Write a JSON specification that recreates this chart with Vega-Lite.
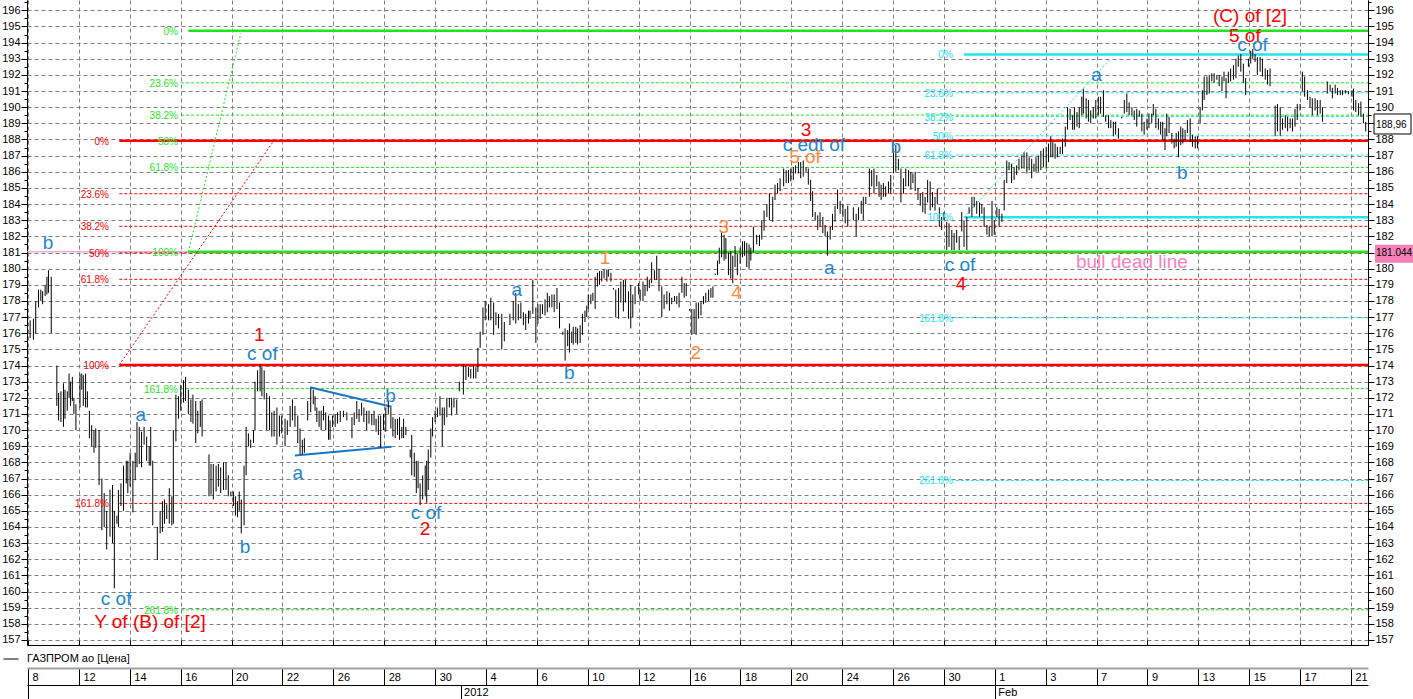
{
  "$schema": "https://vega.github.io/schema/vega-lite/v6.json",
  "width": 1341,
  "height": 645,
  "autosize": {"type": "none"},
  "padding": {"left": 27, "top": 0, "right": 45, "bottom": 54},
  "background": "#ffffff",
  "config": {
    "view": {"stroke": null},
    "axis": {"labelFont": "Liberation Sans", "labelColor": "#000000", "tickColor": "#000000", "domainColor": "#000000", "labelFontSize": 11, "title": null}
  },
  "resolve": {"axis": {"x": "independent", "y": "independent"}},
  "datasets": {
    "bull": [{"t": -0.043, "t2": 52.67, "p": 181.044}],
    "levels": [
      {"set": "A", "lvl": "0%", "p": 187.92, "t": 3.585, "t2": 52.67, "tl": 3.18, "kind": "main"},
      {"set": "A", "lvl": "23.6%", "p": 184.64, "t": 3.585, "t2": 52.67, "tl": 3.18, "kind": "fib"},
      {"set": "A", "lvl": "38.2%", "p": 182.62, "t": 3.585, "t2": 52.67, "tl": 3.18, "kind": "fib"},
      {"set": "A", "lvl": "50%", "p": 180.98, "t": 3.585, "t2": 52.67, "tl": 3.18, "kind": "fib"},
      {"set": "A", "lvl": "61.8%", "p": 179.34, "t": 3.585, "t2": 52.67, "tl": 3.18, "kind": "fib"},
      {"set": "A", "lvl": "100%", "p": 174.04, "t": 3.585, "t2": 52.67, "tl": 3.18, "kind": "main"},
      {"set": "A", "lvl": "161.8%", "p": 165.46, "t": 3.585, "t2": 52.67, "tl": 3.18, "kind": "fib"},
      {"set": "B", "lvl": "0%", "p": 194.74, "t": 6.30, "t2": 52.67, "tl": 5.89, "kind": "main"},
      {"set": "B", "lvl": "23.6%", "p": 191.51, "t": 6.01, "t2": 52.67, "tl": 5.89, "kind": "fib"},
      {"set": "B", "lvl": "38.2%", "p": 189.51, "t": 6.01, "t2": 52.67, "tl": 5.89, "kind": "fib"},
      {"set": "B", "lvl": "50%", "p": 187.89, "t": 6.01, "t2": 52.67, "tl": 5.89, "kind": "fib"},
      {"set": "B", "lvl": "61.8%", "p": 186.27, "t": 6.01, "t2": 52.67, "tl": 5.89, "kind": "fib"},
      {"set": "B", "lvl": "100%", "p": 181.04, "t": 6.30, "t2": 52.67, "tl": 5.89, "kind": "main"},
      {"set": "B", "lvl": "161.8%", "p": 172.57, "t": 6.01, "t2": 52.67, "tl": 5.89, "kind": "fib"},
      {"set": "B", "lvl": "261.8%", "p": 158.87, "t": 6.01, "t2": 52.67, "tl": 5.89, "kind": "fib"},
      {"set": "C", "lvl": "0%", "p": 193.27, "t": 36.79, "t2": 52.67, "tl": 36.35, "kind": "main"},
      {"set": "C", "lvl": "23.6%", "p": 190.89, "t": 36.47, "t2": 52.67, "tl": 36.35, "kind": "fib"},
      {"set": "C", "lvl": "38.2%", "p": 189.42, "t": 36.47, "t2": 52.67, "tl": 36.35, "kind": "fib"},
      {"set": "C", "lvl": "50%", "p": 188.23, "t": 36.47, "t2": 52.67, "tl": 36.35, "kind": "fib"},
      {"set": "C", "lvl": "61.8%", "p": 187.04, "t": 36.47, "t2": 52.67, "tl": 36.35, "kind": "fib"},
      {"set": "C", "lvl": "100%", "p": 183.19, "t": 36.79, "t2": 52.67, "tl": 36.35, "kind": "main"},
      {"set": "C", "lvl": "161.8%", "p": 176.96, "t": 36.47, "t2": 52.67, "tl": 36.35, "kind": "fib"},
      {"set": "C", "lvl": "261.8%", "p": 166.88, "t": 36.47, "t2": 52.67, "tl": 36.35, "kind": "fib"}
    ],
    "diag": [
      {"set": "B", "t": 6.30, "p": 181.04, "t2": 8.36, "p2": 194.57},
      {"set": "A", "t": 3.585, "p": 174.04, "t2": 9.63, "p2": 187.86},
      {"set": "C", "t": 36.79, "p": 183.19, "t2": 42.53, "p2": 192.96}
    ],
    "tri": [
      {"t": 11.08, "p": 172.65, "t2": 14.29, "p2": 171.45},
      {"t": 10.49, "p": 168.42, "t2": 14.29, "p2": 168.97}
    ],
    "waves": [
      {"txt": "b", "t": 0.78, "p": 181.57, "deg": "wave"},
      {"txt": "a", "t": 4.43, "p": 170.94, "deg": "wave"},
      {"txt": "c of", "t": 3.46, "p": 159.52, "deg": "wave"},
      {"txt": "Y of (B) of [2]", "t": 4.79, "p": 158.1, "deg": "degree"},
      {"txt": "b", "t": 8.53, "p": 162.78, "deg": "wave"},
      {"txt": "1", "t": 9.09, "p": 175.89, "deg": "degree"},
      {"txt": "c of", "t": 9.21, "p": 174.72, "deg": "wave"},
      {"txt": "a", "t": 10.60, "p": 167.33, "deg": "wave"},
      {"txt": "b", "t": 14.25, "p": 172.11, "deg": "wave"},
      {"txt": "c of", "t": 15.64, "p": 164.85, "deg": "wave"},
      {"txt": "2", "t": 15.60, "p": 163.86, "deg": "degree"},
      {"txt": "a", "t": 19.21, "p": 178.68, "deg": "wave"},
      {"txt": "b", "t": 21.27, "p": 173.52, "deg": "wave"},
      {"txt": "1", "t": 22.68, "p": 180.64, "deg": "sub"},
      {"txt": "2", "t": 26.25, "p": 174.76, "deg": "sub"},
      {"txt": "3", "t": 27.35, "p": 182.6, "deg": "sub"},
      {"txt": "4", "t": 27.85, "p": 178.51, "deg": "sub"},
      {"txt": "3", "t": 30.58, "p": 188.59, "deg": "degree"},
      {"txt": "c edt of", "t": 30.89, "p": 187.66, "deg": "wave"},
      {"txt": "5 of", "t": 30.54, "p": 186.9, "deg": "sub"},
      {"txt": "a", "t": 31.49, "p": 180.02, "deg": "wave"},
      {"txt": "b", "t": 34.11, "p": 187.55, "deg": "wave"},
      {"txt": "c of", "t": 36.63, "p": 180.23, "deg": "wave"},
      {"txt": "4", "t": 36.67, "p": 179.05, "deg": "degree"},
      {"txt": "a", "t": 42.0, "p": 191.99, "deg": "wave"},
      {"txt": "b", "t": 45.37, "p": 185.94, "deg": "wave"},
      {"txt": "5 of", "t": 47.83, "p": 194.41, "deg": "degree"},
      {"txt": "c of", "t": 48.13, "p": 193.85, "deg": "wave"},
      {"txt": "(C) of [2]", "t": 48.03, "p": 195.65, "deg": "degree"},
      {"txt": "bull dead line", "t": 43.39, "p": 180.43, "deg": "note"}
    ],
    "boxes": [
      {"t": 52.67, "p": 188.96, "txt": "188,96", "kind": "last"},
      {"t": 52.67, "p": 181.044, "txt": "181.044", "kind": "bull"}
    ],
    "bars": [
      {"t":0.08,"h":176.8,"l":175.7},{"t":0.21,"h":176.9,"l":175.6},{"t":0.30,"h":178.0,"l":176.0},{"t":0.41,"h":178.7,"l":177.6},
      {"t":0.50,"h":178.7,"l":178.0},{"t":0.57,"h":178.6,"l":177.8},{"t":0.67,"h":179.0,"l":178.3},{"t":0.74,"h":179.5,"l":178.4},
      {"t":0.80,"h":179.9,"l":178.5},{"t":0.91,"h":179.5,"l":176.0},{"t":1.13,"h":174.0,"l":171.5},{"t":1.20,"h":172.3,"l":170.6},
      {"t":1.29,"h":172.4,"l":170.5},{"t":1.39,"h":172.9,"l":170.2},{"t":1.45,"h":172.5,"l":170.7},{"t":1.54,"h":172.4,"l":171.2},
      {"t":1.61,"h":173.5,"l":172.0},{"t":1.67,"h":173.0,"l":171.5},{"t":1.74,"h":173.3,"l":171.8},{"t":1.80,"h":172.0,"l":171.0},
      {"t":1.88,"h":171.6,"l":170.0},{"t":2.04,"h":173.5,"l":171.4},{"t":2.11,"h":173.5,"l":172.5},{"t":2.17,"h":173.4,"l":171.5},
      {"t":2.26,"h":173.5,"l":171.4},{"t":2.33,"h":172.4,"l":171.4},{"t":2.41,"h":171.2,"l":169.5},{"t":2.50,"h":170.3,"l":169.0},
      {"t":2.59,"h":170.0,"l":168.6},{"t":2.66,"h":170.1,"l":168.9},{"t":2.79,"h":170.0,"l":166.6},{"t":2.90,"h":167.0,"l":163.8},
      {"t":2.99,"h":166.1,"l":164.0},{"t":3.09,"h":165.0,"l":162.6},{"t":3.22,"h":166.3,"l":163.4},{"t":3.32,"h":166.6,"l":163.0},
      {"t":3.39,"h":165.0,"l":160.2},{"t":3.49,"h":164.7,"l":164.2},{"t":3.55,"h":166.3,"l":164.0},{"t":3.65,"h":166.7,"l":165.3},
      {"t":3.75,"h":167.8,"l":165.0},{"t":3.86,"h":168.1,"l":166.7},{"t":3.92,"h":168.1,"l":166.1},{"t":4.01,"h":168.6,"l":166.5},
      {"t":4.12,"h":168.1,"l":164.9},{"t":4.21,"h":168.6,"l":166.9},{"t":4.28,"h":170.5,"l":167.7},{"t":4.37,"h":170.2,"l":167.9},
      {"t":4.46,"h":169.9,"l":167.7},{"t":4.56,"h":170.2,"l":169.1},{"t":4.66,"h":169.6,"l":168.1},{"t":4.76,"h":169.0,"l":167.8},
      {"t":4.82,"h":170.2,"l":167.8},{"t":4.90,"h":168.1,"l":164.1},{"t":5.08,"h":164.0,"l":161.95},{"t":5.19,"h":165.0,"l":163.6},
      {"t":5.28,"h":165.6,"l":163.7},{"t":5.36,"h":165.7,"l":164.2},{"t":5.45,"h":165.4,"l":164.5},{"t":5.55,"h":166.4,"l":164.2},
      {"t":5.65,"h":165.9,"l":164.1},{"t":5.71,"h":170.0,"l":164.2},{"t":5.81,"h":172.2,"l":169.3},{"t":5.91,"h":172.1,"l":170.7},
      {"t":6.00,"h":172.8,"l":171.2},{"t":6.11,"h":173.1,"l":171.7},{"t":6.19,"h":173.3,"l":171.8},{"t":6.30,"h":172.5,"l":171.0},
      {"t":6.40,"h":171.9,"l":170.5},{"t":6.48,"h":172.2,"l":170.4},{"t":6.59,"h":171.8,"l":169.2},{"t":6.67,"h":171.2,"l":169.8},
      {"t":6.77,"h":171.8,"l":170.2},{"t":6.84,"h":171.9,"l":169.6},{"t":7.11,"h":168.5,"l":165.9},{"t":7.19,"h":167.9,"l":166.0},
      {"t":7.28,"h":167.9,"l":165.7},{"t":7.39,"h":167.8,"l":166.2},{"t":7.48,"h":167.9,"l":166.5},{"t":7.57,"h":167.7,"l":166.1},
      {"t":7.68,"h":168.0,"l":166.3},{"t":7.78,"h":168.0,"l":166.3},{"t":7.87,"h":167.2,"l":165.9},{"t":7.97,"h":166.2,"l":165.9},
      {"t":8.07,"h":166.2,"l":165.3},{"t":8.15,"h":165.9,"l":164.7},{"t":8.23,"h":165.6,"l":164.6},{"t":8.30,"h":166.2,"l":165.0},
      {"t":8.38,"h":165.7,"l":163.6},{"t":8.49,"h":167.8,"l":164.1},{"t":8.57,"h":170.2,"l":167.2},{"t":8.66,"h":169.8,"l":169.0},
      {"t":8.75,"h":169.4,"l":168.9},{"t":8.86,"h":170.0,"l":169.2},{"t":8.92,"h":173.0,"l":170.0},{"t":9.02,"h":173.7,"l":172.4},
      {"t":9.12,"h":174.1,"l":172.4},{"t":9.19,"h":173.9,"l":172.1},{"t":9.28,"h":173.7,"l":171.9},{"t":9.38,"h":172.3,"l":170.0},
      {"t":9.49,"h":172.1,"l":170.0},{"t":9.58,"h":171.1,"l":169.6},{"t":9.67,"h":171.2,"l":169.6},{"t":9.78,"h":171.4,"l":169.1},
      {"t":9.88,"h":170.9,"l":169.6},{"t":9.97,"h":170.9,"l":169.8},{"t":10.10,"h":170.7,"l":169.0},{"t":10.19,"h":170.6,"l":169.7},
      {"t":10.30,"h":171.5,"l":170.2},{"t":10.39,"h":171.9,"l":170.6},{"t":10.49,"h":171.5,"l":170.2},{"t":10.60,"h":170.9,"l":169.2},
      {"t":10.69,"h":170.1,"l":168.5},{"t":10.78,"h":169.4,"l":168.5},{"t":10.86,"h":169.5,"l":168.6},{"t":10.99,"h":171.8,"l":170.6},
      {"t":11.11,"h":172.6,"l":171.1},{"t":11.21,"h":172.5,"l":171.6},{"t":11.28,"h":172.1,"l":171.2},{"t":11.35,"h":171.4,"l":170.5},
      {"t":11.44,"h":171.2,"l":170.2},{"t":11.52,"h":171.2,"l":170.0},{"t":11.61,"h":171.5,"l":170.6},{"t":11.70,"h":171.1,"l":170.0},
      {"t":11.81,"h":170.9,"l":169.4},{"t":11.87,"h":170.6,"l":169.4},{"t":11.97,"h":170.9,"l":170.2},{"t":12.07,"h":171.0,"l":170.2},
      {"t":12.16,"h":171.1,"l":170.4},{"t":12.27,"h":171.2,"l":170.5},{"t":12.40,"h":171.2,"l":170.8},{"t":12.53,"h":171.1,"l":170.6},
      {"t":12.73,"h":170.8,"l":169.5},{"t":12.82,"h":171.1,"l":170.3},{"t":12.92,"h":171.8,"l":170.7},{"t":13.01,"h":171.3,"l":170.5},
      {"t":13.11,"h":171.7,"l":170.9},{"t":13.20,"h":171.4,"l":170.5},{"t":13.31,"h":171.2,"l":170.0},{"t":13.40,"h":171.2,"l":170.4},
      {"t":13.51,"h":171.0,"l":170.3},{"t":13.60,"h":171.2,"l":170.3},{"t":13.68,"h":170.7,"l":169.9},{"t":13.77,"h":170.9,"l":169.7},
      {"t":13.86,"h":170.9,"l":168.9},{"t":13.97,"h":171.0,"l":170.0},{"t":14.06,"h":171.4,"l":169.9},{"t":14.16,"h":171.8,"l":171.0},
      {"t":14.26,"h":171.4,"l":170.1},{"t":14.34,"h":170.8,"l":169.6},{"t":14.43,"h":170.7,"l":169.5},{"t":14.52,"h":170.7,"l":169.7},
      {"t":14.60,"h":170.8,"l":169.4},{"t":14.69,"h":170.2,"l":169.5},{"t":14.76,"h":170.7,"l":169.5},{"t":14.85,"h":170.2,"l":169.7},
      {"t":15.02,"h":168.8,"l":168.3},{"t":15.08,"h":169.7,"l":167.2},{"t":15.18,"h":168.6,"l":167.1},{"t":15.26,"h":168.1,"l":166.1},
      {"t":15.33,"h":168.1,"l":166.4},{"t":15.41,"h":166.7,"l":165.35},{"t":15.51,"h":167.2,"l":165.7},{"t":15.61,"h":167.8,"l":165.9},
      {"t":15.67,"h":168.1,"l":165.5},{"t":15.73,"h":168.8,"l":166.3},{"t":15.83,"h":170.1,"l":168.3},{"t":15.90,"h":170.8,"l":169.6},
      {"t":16.00,"h":171.2,"l":170.5},{"t":16.09,"h":171.4,"l":170.8},{"t":16.19,"h":172.1,"l":170.9},{"t":16.28,"h":171.4,"l":169.0},
      {"t":16.36,"h":171.4,"l":170.3},{"t":16.46,"h":172.0,"l":170.8},{"t":16.56,"h":172.0,"l":171.4},{"t":16.65,"h":172.0,"l":170.9},
      {"t":16.74,"h":172.0,"l":171.4},{"t":16.85,"h":171.9,"l":171.0},{"t":16.95,"h":173.0,"l":172.4},{"t":17.11,"h":174.1,"l":172.2},
      {"t":17.21,"h":174.0,"l":173.1},{"t":17.31,"h":173.9,"l":173.3},{"t":17.40,"h":173.8,"l":173.2},{"t":17.51,"h":174.0,"l":173.2},
      {"t":17.60,"h":173.9,"l":173.2},{"t":17.68,"h":175.1,"l":173.6},{"t":17.77,"h":176.1,"l":175.1},{"t":17.88,"h":177.6,"l":175.9},
      {"t":17.97,"h":178.0,"l":176.8},{"t":18.10,"h":177.8,"l":176.8},{"t":18.19,"h":178.2,"l":176.8},{"t":18.30,"h":177.9,"l":175.9},
      {"t":18.39,"h":177.3,"l":176.5},{"t":18.49,"h":177.2,"l":176.3},{"t":18.62,"h":177.2,"l":175.0},{"t":18.72,"h":176.7,"l":175.5},
      {"t":18.94,"h":177.2,"l":176.5},{"t":19.07,"h":178.0,"l":176.8},{"t":19.17,"h":178.5,"l":176.6},{"t":19.27,"h":177.8,"l":176.8},
      {"t":19.37,"h":177.9,"l":176.9},{"t":19.47,"h":177.3,"l":176.5},{"t":19.56,"h":177.2,"l":176.2},{"t":19.67,"h":177.4,"l":176.6},
      {"t":19.73,"h":177.4,"l":176.9},{"t":19.84,"h":179.3,"l":177.2},{"t":19.96,"h":177.6,"l":175.4},{"t":20.04,"h":177.8,"l":176.6},
      {"t":20.13,"h":177.8,"l":176.9},{"t":20.22,"h":177.8,"l":177.2},{"t":20.32,"h":178.1,"l":177.1},{"t":20.41,"h":178.5,"l":177.3},
      {"t":20.49,"h":178.3,"l":177.6},{"t":20.59,"h":178.4,"l":177.6},{"t":20.68,"h":178.4,"l":177.3},{"t":20.79,"h":178.8,"l":177.5},
      {"t":20.89,"h":177.9,"l":176.3},{"t":21.02,"h":176.1,"l":175.9},{"t":21.11,"h":176.3,"l":174.3},{"t":21.21,"h":176.2,"l":175.2},
      {"t":21.28,"h":176.6,"l":174.8},{"t":21.37,"h":176.1,"l":175.4},{"t":21.43,"h":176.4,"l":175.3},{"t":21.53,"h":176.4,"l":175.4},
      {"t":21.60,"h":176.3,"l":175.3},{"t":21.70,"h":176.5,"l":175.4},{"t":21.79,"h":177.2,"l":175.9},{"t":21.89,"h":177.4,"l":176.7},
      {"t":21.96,"h":177.7,"l":177.0},{"t":22.02,"h":178.4,"l":177.5},{"t":22.12,"h":178.4,"l":177.8},{"t":22.20,"h":178.5,"l":178.0},
      {"t":22.29,"h":179.5,"l":177.5},{"t":22.38,"h":179.75,"l":178.9},{"t":22.46,"h":179.85,"l":179.0},{"t":22.55,"h":179.85,"l":179.2},
      {"t":22.64,"h":179.95,"l":179.4},{"t":22.75,"h":179.95,"l":179.2},{"t":22.81,"h":179.95,"l":179.5},{"t":22.91,"h":179.75,"l":179.2},
      {"t":23.01,"h":178.8,"l":178.7},{"t":23.10,"h":178.7,"l":177.0},{"t":23.21,"h":178.8,"l":176.9},{"t":23.30,"h":179.2,"l":177.9},
      {"t":23.40,"h":179.3,"l":177.35},{"t":23.48,"h":179.3,"l":177.9},{"t":23.60,"h":178.6,"l":176.9},{"t":23.69,"h":179.0,"l":176.3},
      {"t":23.77,"h":178.4,"l":177.0},{"t":23.86,"h":178.9,"l":177.8},{"t":24.00,"h":179.1,"l":178.4},{"t":24.06,"h":178.7,"l":178.0},
      {"t":24.17,"h":179.2,"l":178.0},{"t":24.25,"h":179.0,"l":178.3},{"t":24.34,"h":179.5,"l":178.6},{"t":24.42,"h":179.3,"l":178.8},
      {"t":24.51,"h":180.4,"l":179.1},{"t":24.62,"h":179.9,"l":179.3},{"t":24.71,"h":180.8,"l":179.3},{"t":24.80,"h":180.0,"l":178.6},
      {"t":24.91,"h":178.9,"l":177.0},{"t":25.00,"h":178.4,"l":177.5},{"t":25.11,"h":178.6,"l":177.8},{"t":25.21,"h":178.5,"l":177.4},
      {"t":25.30,"h":178.2,"l":177.8},{"t":25.41,"h":178.3,"l":178.0},{"t":25.50,"h":178.3,"l":177.8},{"t":25.59,"h":178.5,"l":177.6},
      {"t":25.70,"h":179.5,"l":178.5},{"t":25.79,"h":179.1,"l":178.2},{"t":25.87,"h":179.1,"l":178.3},{"t":26.00,"h":177.5,"l":177.4},
      {"t":26.09,"h":177.5,"l":175.9},{"t":26.18,"h":177.5,"l":176.0},{"t":26.26,"h":177.9,"l":175.9},{"t":26.35,"h":177.9,"l":176.9},
      {"t":26.45,"h":178.0,"l":177.1},{"t":26.55,"h":178.3,"l":177.8},{"t":26.64,"h":178.5,"l":177.9},{"t":26.75,"h":178.7,"l":178.0},
      {"t":26.84,"h":178.8,"l":178.2},{"t":26.92,"h":178.9,"l":178.2},{"t":27.01,"h":179.7,"l":179.6},{"t":27.10,"h":180.5,"l":179.6},
      {"t":27.17,"h":181.3,"l":180.3},{"t":27.26,"h":182.25,"l":180.7},{"t":27.36,"h":182.1,"l":180.5},{"t":27.43,"h":181.9,"l":180.6},
      {"t":27.53,"h":181.0,"l":179.6},{"t":27.62,"h":181.1,"l":179.4},{"t":27.70,"h":180.8,"l":179.1},{"t":27.79,"h":181.4,"l":180.1},
      {"t":27.88,"h":180.9,"l":179.6},{"t":27.99,"h":181.3,"l":180.3},{"t":28.08,"h":181.7,"l":180.7},{"t":28.16,"h":181.7,"l":180.8},
      {"t":28.25,"h":181.6,"l":180.1},{"t":28.34,"h":181.5,"l":180.0},{"t":28.41,"h":181.3,"l":180.5},{"t":28.51,"h":182.6,"l":181.0},
      {"t":28.64,"h":182.1,"l":181.5},{"t":28.75,"h":182.1,"l":181.4},{"t":28.84,"h":183.0,"l":181.8},{"t":28.93,"h":183.6,"l":182.35},
      {"t":29.04,"h":184.0,"l":183.2},{"t":29.14,"h":184.65,"l":183.0},{"t":29.27,"h":184.45,"l":182.9},{"t":29.36,"h":185.2,"l":184.25},
      {"t":29.46,"h":185.3,"l":184.65},{"t":29.56,"h":185.6,"l":184.8},{"t":29.70,"h":186.2,"l":185.1},{"t":29.80,"h":186.1,"l":185.3},
      {"t":29.89,"h":186.1,"l":185.3},{"t":29.98,"h":186.2,"l":185.4},{"t":30.08,"h":186.3,"l":185.5},{"t":30.17,"h":186.4,"l":185.9},
      {"t":30.28,"h":186.6,"l":185.9},{"t":30.37,"h":186.6,"l":185.6},{"t":30.47,"h":186.7,"l":185.7},{"t":30.58,"h":186.3,"l":186.0},
      {"t":30.67,"h":186.2,"l":185.2},{"t":30.76,"h":185.5,"l":184.2},{"t":30.84,"h":184.8,"l":183.2},{"t":30.94,"h":183.5,"l":183.0},
      {"t":31.04,"h":183.3,"l":182.4},{"t":31.13,"h":183.5,"l":182.6},{"t":31.24,"h":183.2,"l":182.2},{"t":31.33,"h":182.7,"l":182.0},
      {"t":31.42,"h":182.3,"l":180.8},{"t":31.53,"h":182.6,"l":181.8},{"t":31.62,"h":183.4,"l":182.4},{"t":31.72,"h":183.9,"l":182.9},
      {"t":31.82,"h":184.9,"l":183.7},{"t":31.92,"h":184.2,"l":183.4},{"t":32.03,"h":184.0,"l":183.2},{"t":32.12,"h":183.7,"l":182.8},
      {"t":32.22,"h":183.9,"l":182.6},{"t":32.44,"h":183.8,"l":183.0},{"t":32.55,"h":183.4,"l":182.0},{"t":32.64,"h":183.8,"l":183.0},
      {"t":32.75,"h":184.2,"l":183.4},{"t":32.83,"h":184.45,"l":183.0},{"t":32.93,"h":184.45,"l":184.0},{"t":33.07,"h":186.2,"l":184.45},
      {"t":33.16,"h":186.1,"l":185.1},{"t":33.25,"h":186.2,"l":184.65},{"t":33.36,"h":185.8,"l":185.1},{"t":33.45,"h":185.4,"l":184.45},
      {"t":33.53,"h":185.2,"l":184.25},{"t":33.62,"h":185.3,"l":184.45},{"t":33.71,"h":185.1,"l":184.45},{"t":33.82,"h":185.4,"l":184.65},
      {"t":33.91,"h":185.8,"l":184.65},{"t":34.02,"h":187.2,"l":185.9},{"t":34.11,"h":187.65,"l":186.0},{"t":34.21,"h":186.8,"l":186.1},
      {"t":34.31,"h":186.2,"l":184.1},{"t":34.41,"h":185.6,"l":184.65},{"t":34.50,"h":186.2,"l":185.1},{"t":34.61,"h":186.1,"l":185.1},
      {"t":34.70,"h":186.0,"l":184.9},{"t":34.78,"h":185.9,"l":185.3},{"t":34.87,"h":186.0,"l":184.8},{"t":34.98,"h":185.0,"l":184.25},
      {"t":35.07,"h":184.65,"l":183.9},{"t":35.17,"h":184.75,"l":183.5},{"t":35.26,"h":184.45,"l":183.4},{"t":35.36,"h":185.5,"l":184.1},
      {"t":35.46,"h":185.4,"l":183.6},{"t":35.55,"h":184.75,"l":183.8},{"t":35.65,"h":184.45,"l":183.6},{"t":35.74,"h":184.95,"l":184.0},
      {"t":35.82,"h":183.8,"l":182.6},{"t":35.91,"h":183.2,"l":182.4},{"t":36.00,"h":183.5,"l":183.0},{"t":36.11,"h":182.9,"l":181.15},
      {"t":36.20,"h":182.8,"l":181.35},{"t":36.31,"h":182.4,"l":181.15},{"t":36.40,"h":182.2,"l":181.15},{"t":36.50,"h":182.4,"l":181.6},
      {"t":36.60,"h":182.0,"l":181.15},{"t":36.70,"h":183.5,"l":182.3},{"t":36.79,"h":183.0,"l":181.35},{"t":36.90,"h":183.2,"l":181.15},
      {"t":36.99,"h":183.8,"l":183.4},{"t":37.10,"h":184.45,"l":183.2},{"t":37.19,"h":184.45,"l":183.8},{"t":37.29,"h":184.2,"l":183.4},
      {"t":37.40,"h":184.1,"l":183.2},{"t":37.49,"h":184.0,"l":183.4},{"t":37.58,"h":183.8,"l":182.6},{"t":37.69,"h":182.7,"l":182.1},
      {"t":37.78,"h":182.6,"l":182.0},{"t":37.89,"h":184.2,"l":182.0},{"t":37.98,"h":183.0,"l":182.1},{"t":38.08,"h":183.8,"l":183.2},
      {"t":38.17,"h":183.7,"l":182.6},{"t":38.28,"h":183.4,"l":182.9},{"t":38.37,"h":185.5,"l":183.6},{"t":38.47,"h":186.7,"l":185.3},
      {"t":38.56,"h":186.6,"l":186.1},{"t":38.66,"h":186.5,"l":185.3},{"t":38.76,"h":186.3,"l":185.5},{"t":38.86,"h":186.4,"l":185.8},
      {"t":38.95,"h":186.8,"l":186.1},{"t":39.06,"h":187.0,"l":186.2},{"t":39.15,"h":187.2,"l":186.2},{"t":39.26,"h":187.2,"l":185.9},
      {"t":39.35,"h":186.9,"l":186.1},{"t":39.45,"h":186.8,"l":185.6},{"t":39.54,"h":186.5,"l":186.0},{"t":39.62,"h":186.9,"l":186.0},
      {"t":39.71,"h":187.0,"l":186.0},{"t":39.81,"h":187.3,"l":186.1},{"t":39.91,"h":187.45,"l":186.3},{"t":40.02,"h":187.55,"l":186.2},
      {"t":40.11,"h":187.75,"l":186.6},{"t":40.20,"h":188.2,"l":186.9},{"t":40.28,"h":187.85,"l":186.9},{"t":40.37,"h":187.75,"l":186.8},
      {"t":40.46,"h":187.55,"l":186.9},{"t":40.57,"h":187.55,"l":187.1},{"t":40.66,"h":188.05,"l":187.1},{"t":40.77,"h":188.8,"l":187.55},
      {"t":40.86,"h":190.0,"l":188.6},{"t":40.96,"h":189.9,"l":189.2},{"t":41.06,"h":189.5,"l":188.6},{"t":41.13,"h":190.0,"l":188.6},
      {"t":41.23,"h":189.7,"l":188.8},{"t":41.32,"h":190.0,"l":188.7},{"t":41.42,"h":190.65,"l":189.5},{"t":41.48,"h":191.15,"l":189.6},
      {"t":41.59,"h":190.55,"l":189.3},{"t":41.68,"h":190.45,"l":189.1},{"t":41.77,"h":189.8,"l":189.0},{"t":41.87,"h":190.0,"l":189.3},
      {"t":41.97,"h":190.45,"l":189.3},{"t":42.07,"h":190.65,"l":189.5},{"t":42.16,"h":190.65,"l":189.6},{"t":42.27,"h":191.05,"l":189.4},
      {"t":42.36,"h":189.5,"l":189.1},{"t":42.47,"h":189.5,"l":188.7},{"t":42.56,"h":189.2,"l":188.7},{"t":42.66,"h":189.1,"l":188.2},
      {"t":42.75,"h":189.1,"l":188.3},{"t":42.86,"h":188.7,"l":188.05},{"t":42.99,"h":189.4,"l":189.3},{"t":43.09,"h":190.45,"l":189.6},
      {"t":43.19,"h":190.85,"l":189.7},{"t":43.28,"h":190.3,"l":189.5},{"t":43.39,"h":190.0,"l":189.5},{"t":43.48,"h":189.8,"l":189.2},
      {"t":43.58,"h":189.9,"l":188.8},{"t":43.68,"h":189.8,"l":189.4},{"t":43.78,"h":189.6,"l":188.5},{"t":43.87,"h":189.1,"l":188.3},
      {"t":43.98,"h":189.3,"l":188.6},{"t":44.06,"h":189.6,"l":188.7},{"t":44.17,"h":189.6,"l":189.0},{"t":44.23,"h":190.2,"l":189.5},
      {"t":44.33,"h":189.9,"l":188.7},{"t":44.43,"h":189.3,"l":188.6},{"t":44.52,"h":189.1,"l":188.3},{"t":44.60,"h":189.1,"l":187.95},
      {"t":44.69,"h":188.7,"l":187.35},{"t":44.76,"h":189.6,"l":188.2},{"t":44.85,"h":189.4,"l":188.4},{"t":44.96,"h":188.4,"l":187.75},
      {"t":45.05,"h":188.05,"l":187.45},{"t":45.13,"h":188.4,"l":187.55},{"t":45.22,"h":188.5,"l":186.9},{"t":45.31,"h":188.8,"l":187.65},
      {"t":45.39,"h":188.7,"l":187.75},{"t":45.48,"h":188.6,"l":187.95},{"t":45.57,"h":189.2,"l":188.4},{"t":45.68,"h":189.3,"l":187.85},
      {"t":45.77,"h":188.3,"l":187.55},{"t":45.88,"h":188.2,"l":187.45},{"t":45.97,"h":188.2,"l":187.45},{"t":46.07,"h":190.0,"l":189.0},
      {"t":46.16,"h":191.05,"l":189.8},{"t":46.23,"h":191.9,"l":190.45},{"t":46.34,"h":191.9,"l":190.75},{"t":46.43,"h":192.0,"l":190.85},
      {"t":46.53,"h":192.1,"l":191.6},{"t":46.62,"h":192.1,"l":191.5},{"t":46.73,"h":192.0,"l":191.7},{"t":46.82,"h":192.0,"l":191.3},
      {"t":46.93,"h":191.9,"l":191.0},{"t":47.01,"h":192.2,"l":191.6},{"t":47.09,"h":191.8,"l":190.55},{"t":47.18,"h":192.2,"l":191.5},
      {"t":47.27,"h":192.4,"l":191.6},{"t":47.38,"h":192.6,"l":191.7},{"t":47.48,"h":193.0,"l":191.8},{"t":47.57,"h":193.2,"l":192.5},
      {"t":47.67,"h":193.3,"l":192.2},{"t":47.77,"h":192.7,"l":191.5},{"t":47.86,"h":191.8,"l":190.75},{"t":47.97,"h":193.0,"l":192.5},
      {"t":48.06,"h":193.5,"l":192.7},{"t":48.14,"h":193.6,"l":193.0},{"t":48.23,"h":193.3,"l":192.8},{"t":48.32,"h":193.1,"l":192.0},
      {"t":48.43,"h":193.1,"l":192.2},{"t":48.52,"h":193.0,"l":191.9},{"t":48.63,"h":192.4,"l":191.7},{"t":48.72,"h":192.3,"l":191.4},
      {"t":48.82,"h":192.4,"l":191.3},{"t":49.02,"h":190.1,"l":188.2},{"t":49.11,"h":190.2,"l":188.5},{"t":49.22,"h":190.0,"l":188.2},
      {"t":49.31,"h":189.3,"l":188.6},{"t":49.42,"h":189.5,"l":188.7},{"t":49.51,"h":189.4,"l":188.5},{"t":49.61,"h":189.3,"l":188.7},
      {"t":49.70,"h":189.3,"l":188.5},{"t":49.80,"h":189.9,"l":188.8},{"t":49.89,"h":190.2,"l":189.2},{"t":50.00,"h":190.2,"l":189.8},
      {"t":50.09,"h":192.2,"l":191.0},{"t":50.18,"h":191.9,"l":190.65},{"t":50.29,"h":191.05,"l":190.45},{"t":50.39,"h":190.65,"l":190.0},
      {"t":50.48,"h":190.55,"l":189.5},{"t":50.59,"h":190.55,"l":189.8},{"t":50.68,"h":190.45,"l":189.5},{"t":50.79,"h":190.45,"l":189.6},
      {"t":50.88,"h":190.0,"l":189.1},{"t":51.07,"h":191.6,"l":190.85},{"t":51.18,"h":191.4,"l":191.0},{"t":51.27,"h":191.2,"l":190.55},
      {"t":51.38,"h":191.4,"l":190.85},{"t":51.47,"h":191.2,"l":190.75},{"t":51.58,"h":191.05,"l":190.75},{"t":51.67,"h":191.05,"l":190.75},
      {"t":51.78,"h":191.05,"l":190.85},{"t":51.90,"h":191.0,"l":190.8},{"t":52.04,"h":191.05,"l":190.65},{"t":52.10,"h":191.15,"l":189.8},
      {"t":52.19,"h":190.45,"l":189.7},{"t":52.30,"h":190.25,"l":189.5},{"t":52.39,"h":190.35,"l":189.4},{"t":52.49,"h":189.6,"l":189.0},
      {"t":52.58,"h":189.1,"l":188.5}
    ]
  },
  "layer": [
    {
      "data": {"name": "bull"},
      "mark": {"type": "rule", "color": "#ff80c0", "strokeWidth": 1},
      "encoding": {
        "x": {"field": "t", "type": "quantitative", "scale": {"domain": [-0.043, 52.67], "nice": false, "zero": false},
          "axis": {"orient": "bottom", "values": [0,2,4,6,8,10,12,14,16,18,20,22,24,26,28,30,32,34,36,38,40,42,44,46,48,50,52], "labels": false, "tickSize": -5, "grid": true, "gridColor": "#808080", "gridDash": [4, 3], "gridWidth": 1, "domainColor": "#000000", "tickColor": "#000000", "title": null}},
        "x2": {"field": "t2"},
        "y": {"field": "p", "type": "quantitative", "scale": {"domain": [156.69, 196.64], "nice": false, "zero": false},
          "axis": {"orient": "left", "values": [157,158,159,160,161,162,163,164,165,166,167,168,169,170,171,172,173,174,175,176,177,178,179,180,181,182,183,184,185,186,187,188,189,190,191,192,193,194,195,196], "tickSize": 6, "labelPadding": 1, "grid": true, "gridColor": "#808080", "gridDash": [4, 3], "gridWidth": 1, "labelFontSize": 11, "labelOverlap": false, "title": null}}
      }
    },
    {
      "data": {"name": "levels"},
      "transform": [{"filter": "datum.kind == 'fib'"}],
      "mark": {"type": "rule", "strokeWidth": 1, "strokeDash": [3, 2]},
      "encoding": {
        "x": {"field": "t", "type": "quantitative", "scale": {"domain": [-0.043, 52.67], "nice": false, "zero": false},
          "axis": {"orient": "bottom", "offset": 23, "values": [0,2,4,6,8,10,12,14,16,18,20,22,24,26,28,30,32,34,36,38,40,42,44,46,48,50,52],
            "labelExpr": "['8','12','14','16','20','22','26','28','30','4','6','10','12','16','18','20','24','26','30','1','3','7','9','13','15','17','21'][round(datum.value/2)]",
            "grid": false, "tickSize": 17, "tickColor": "#000000", "domainColor": "#a0a0a0", "domainWidth": 2, "labelAlign": "left", "labelBaseline": "middle", "labelPadding": -7.5, "labelOffset": 4, "labelFont": "Liberation Sans Narrow, Arial Narrow, Liberation Sans", "labelFontSize": 11, "labelFlush": false, "labelOverlap": false, "title": null}},
        "x2": {"field": "t2"},
        "y": {"field": "p", "type": "quantitative", "scale": {"domain": [156.69, 196.64], "nice": false, "zero": false},
          "axis": {"orient": "right", "values": [157,158,159,160,161,162,163,164,165,166,167,168,169,170,171,172,173,174,175,176,177,178,179,180,181,182,183,184,185,186,187,188,189,190,191,192,193,194,195,196], "labelExpr": "datum.value == 181 || datum.value == 189 ? '' : datum.label", "tickSize": 6, "labelPadding": 1, "grid": false, "labelFontSize": 11, "labelOverlap": false, "title": null}},
        "stroke": {"field": "set", "type": "nominal", "scale": {"domain": ["A", "B", "C"], "range": ["#ff0000", "#1fe51f", "#22e3f0"]}, "legend": null}
      }
    },
    {
      "data": {"name": "levels"},
      "transform": [{"filter": "datum.kind == 'main'"}],
      "mark": {"type": "rule", "strokeWidth": 2.5},
      "encoding": {
        "x": {"field": "t", "type": "quantitative", "scale": {"domain": [-0.043, 52.67], "nice": false, "zero": false},
          "axis": {"orient": "bottom", "offset": 40, "values": [0, 17, 38], "labelExpr": "datum.value == 17 ? '2012' : (datum.value == 38 ? 'Feb' : '')", "grid": false, "tickSize": 14, "tickColor": "#000000", "domainColor": "#000000", "labelAlign": "left", "labelBaseline": "middle", "labelPadding": -7, "labelOffset": 3, "labelFont": "Liberation Sans Narrow, Arial Narrow, Liberation Sans", "labelFontSize": 11, "labelFlush": false, "labelOverlap": false, "title": null}},
        "x2": {"field": "t2"},
        "y": {"field": "p", "type": "quantitative", "scale": {"domain": [156.69, 196.64], "nice": false, "zero": false},
          "axis": {"orient": "left", "values": [157.5,158.5,159.5,160.5,161.5,162.5,163.5,164.5,165.5,166.5,167.5,168.5,169.5,170.5,171.5,172.5,173.5,174.5,175.5,176.5,177.5,178.5,179.5,180.5,181.5,182.5,183.5,184.5,185.5,186.5,187.5,188.5,189.5,190.5,191.5,192.5,193.5,194.5,195.5,196.5], "tickSize": 3, "labels": false, "grid": false, "title": null}},
        "stroke": {"field": "set", "type": "nominal", "scale": {"domain": ["A", "B", "C"], "range": ["#ff0000", "#1fe51f", "#22e3f0"]}, "legend": null}
      }
    },
    {
      "data": {"name": "diag"},
      "mark": {"type": "rule", "strokeWidth": 1, "strokeDash": [2, 2]},
      "encoding": {
        "x": {"field": "t", "type": "quantitative", "scale": {"domain": [-0.043, 52.67], "nice": false, "zero": false}, "axis": null},
        "x2": {"field": "t2"},
        "y": {"field": "p", "type": "quantitative", "scale": {"domain": [156.69, 196.64], "nice": false, "zero": false},
          "axis": {"orient": "right", "values": [157.5,158.5,159.5,160.5,161.5,162.5,163.5,164.5,165.5,166.5,167.5,168.5,169.5,170.5,171.5,172.5,173.5,174.5,175.5,176.5,177.5,178.5,179.5,180.5,181.5,182.5,183.5,184.5,185.5,186.5,187.5,188.5,189.5,190.5,191.5,192.5,193.5,194.5,195.5,196.5], "tickSize": 3, "labels": false, "grid": false, "title": null}},
        "y2": {"field": "p2"},
        "stroke": {"field": "set", "type": "nominal", "scale": {"domain": ["A", "B", "C"], "range": ["#ff0000", "#1fe51f", "#22e3f0"]}, "legend": null}
      }
    },
    {
      "data": {"name": "tri"},
      "mark": {"type": "rule", "strokeWidth": 2, "color": "#1976c8"},
      "encoding": {
        "x": {"field": "t", "type": "quantitative", "scale": {"domain": [-0.043, 52.67], "nice": false, "zero": false}, "axis": null},
        "x2": {"field": "t2"},
        "y": {"field": "p", "type": "quantitative", "scale": {"domain": [156.69, 196.64], "nice": false, "zero": false}, "axis": null},
        "y2": {"field": "p2"}
      }
    },
    {
      "data": {"name": "bars"},
      "mark": {"type": "rule", "strokeWidth": 1},
      "encoding": {
        "x": {"field": "t", "type": "quantitative", "scale": {"domain": [-0.043, 52.67], "nice": false, "zero": false}, "axis": null},
        "y": {"field": "l", "type": "quantitative", "scale": {"domain": [156.69, 196.64], "nice": false, "zero": false}, "axis": null},
        "y2": {"field": "h"},
        "color": {"datum": "ГАЗПРОМ ао [Цена]", "type": "nominal", "scale": {"range": ["#000000"]},
          "legend": {"orient": "none", "legendX": -24, "legendY": 651, "title": null, "symbolType": "stroke", "symbolSize": 225, "symbolStrokeWidth": 1, "symbolStrokeColor": "#000000", "labelFont": "Liberation Sans", "labelFontSize": 11, "labelColor": "#000000", "labelOffset": 8, "padding": 0}}
      }
    },
    {
      "data": {"name": "levels"},
      "mark": {"type": "text", "align": "right", "baseline": "middle", "font": "Liberation Sans", "fontSize": 10, "dy": 1},
      "encoding": {
        "x": {"field": "tl", "type": "quantitative", "scale": {"domain": [-0.043, 52.67], "nice": false, "zero": false}, "axis": null},
        "y": {"field": "p", "type": "quantitative", "scale": {"domain": [156.69, 196.64], "nice": false, "zero": false}, "axis": null},
        "text": {"field": "lvl"},
        "fill": {"field": "set", "type": "nominal", "scale": {"domain": ["A", "B", "C", "wave", "degree", "sub", "note"], "range": ["#ff0000", "#1fe51f", "#22e3f0", "#1e86cf", "#ff0000", "#ff8a3d", "#ff80c0"]}, "legend": null}
      }
    },
    {
      "data": {"name": "waves"},
      "mark": {"type": "text", "align": "center", "baseline": "middle", "font": "Liberation Sans", "fontSize": 19},
      "encoding": {
        "x": {"field": "t", "type": "quantitative", "scale": {"domain": [-0.043, 52.67], "nice": false, "zero": false}, "axis": null},
        "y": {"field": "p", "type": "quantitative", "scale": {"domain": [156.69, 196.64], "nice": false, "zero": false}, "axis": null},
        "text": {"field": "txt"},
        "fill": {"field": "deg", "type": "nominal", "scale": {"domain": ["A", "B", "C", "wave", "degree", "sub", "note"], "range": ["#ff0000", "#1fe51f", "#22e3f0", "#1e86cf", "#ff0000", "#ff8a3d", "#ff80c0"]}, "legend": null}
      }
    },
    {
      "data": {"name": "boxes"},
      "transform": [{"filter": "datum.kind == 'last'"}],
      "mark": {"type": "rect", "fill": "#ffffff", "stroke": "#000000", "strokeWidth": 1, "xOffset": 6, "x2Offset": 43, "yOffset": -10, "y2Offset": 10},
      "encoding": {
        "x": {"field": "t", "type": "quantitative", "scale": {"domain": [-0.043, 52.67], "nice": false, "zero": false}, "axis": null},
        "x2": {"field": "t"},
        "y": {"field": "p", "type": "quantitative", "scale": {"domain": [156.69, 196.64], "nice": false, "zero": false}, "axis": null},
        "y2": {"field": "p"}
      }
    },
    {
      "data": {"name": "boxes"},
      "transform": [{"filter": "datum.kind == 'bull'"}],
      "mark": {"type": "rect", "fill": "#f580b8", "xOffset": 7, "x2Offset": 50, "yOffset": -7, "y2Offset": 11},
      "encoding": {
        "x": {"field": "t", "type": "quantitative", "scale": {"domain": [-0.043, 52.67], "nice": false, "zero": false}, "axis": null},
        "x2": {"field": "t"},
        "y": {"field": "p", "type": "quantitative", "scale": {"domain": [156.69, 196.64], "nice": false, "zero": false}, "axis": null},
        "y2": {"field": "p"}
      }
    },
    {
      "data": {"name": "boxes"},
      "mark": {"type": "text", "align": "left", "baseline": "middle", "font": "Liberation Sans", "fontSize": 10, "dx": 8, "dy": 1, "color": "#000000"},
      "encoding": {
        "x": {"field": "t", "type": "quantitative", "scale": {"domain": [-0.043, 52.67], "nice": false, "zero": false}, "axis": null},
        "y": {"field": "p", "type": "quantitative", "scale": {"domain": [156.69, 196.64], "nice": false, "zero": false}, "axis": null},
        "text": {"field": "txt"}
      }
    }
  ]
}
